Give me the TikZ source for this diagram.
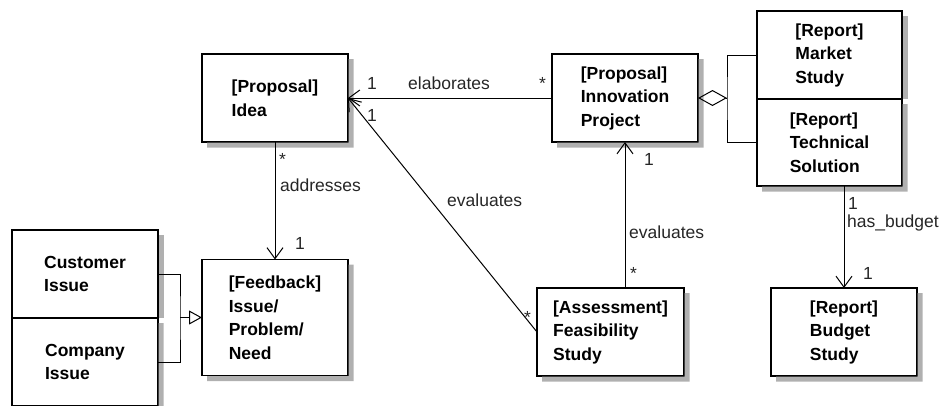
\documentclass[tikz,border=0pt]{standalone}
\usepackage{fontspec}
\setmainfont{Liberation Sans}
\usetikzlibrary{shapes,arrows.meta,positioning,calc}
\definecolor{shadowgray}{RGB}{176,176,176}
\tikzstyle{classbox} = [draw, fill=white, rectangle, line width=1.3pt,
    inner sep=0pt, outer sep=0pt, align=left,
    font=\fontsize{17.5}{23.5}\selectfont\bfseries,
    minimum width=146pt, minimum height=88pt]
\tikzstyle{boxshadow} = [fill=shadowgray, draw=none]
\tikzstyle{lbl} = [inner sep=0pt, anchor=base west, text=black!85,
    font=\fontsize{17.5}{21}\selectfont]
\tikzstyle{conn} = [line width=1pt]
\tikzstyle{assoc} = [conn, -{Straight Barb[length=11pt,width=16pt]}]

\begin{document}
\begin{tikzpicture}[x=1pt, y=-1pt]
\useasboundingbox (0,0) rectangle (948,405);
 \coordinate (I) at (275,98);
 \coordinate (P) at (625,98);
 \coordinate (M) at (829.5,55);
 \coordinate (F) at (275,317.5);
 \coordinate (C) at (85,274);
 \coordinate (A) at (610.5,332);
 \coordinate (B) at (844,332);
 \coordinate (G) at (180,317.5);
 \coordinate (D) at (727,98);

\node[classbox, name=idea] at (I) {[Proposal]\\Idea};
\node[classbox, name=innov] at (P) {[Proposal]\\Innovation\\Project};
\node[classbox, name=market, minimum width=145pt] at (M) {[Report]\\Market\\Study};
\node[classbox, name=tech, minimum width=145pt, minimum height=87pt,
      below=0pt of market] {[Report]\\Technical\\Solution};
\node[classbox, name=feedback, minimum height=116pt] at (F)
      {[Feedback]\\Issue/\\Problem/\\Need};
\node[classbox, name=cust] at (C) {Customer\\Issue};
\node[classbox, name=comp, below=0pt of cust] {Company\\Issue};
\node[classbox, name=assess, minimum width=147pt] at (A)
      {[Assessment]\\Feasibility\\Study};
\node[classbox, name=budget] at (B) {[Report]\\Budget\\Study};

% drop shadows: a strip along the right and bottom edges
\foreach \n in {idea,innov,tech,feedback,comp,assess,budget}
  \fill[boxshadow] ($(\n.north east)+(0.7,5)$) -- ($(\n.south east)+(0.7,0.7)$)
     -- ($(\n.south west)+(5,0.7)$) -- ($(\n.south west)+(5,5.7)$)
     -- ($(\n.south east)+(5.7,5.7)$) -- ($(\n.north east)+(5.7,5)$) -- cycle;
\foreach \n in {market,cust}
  \fill[boxshadow] ($(\n.north east)+(0.7,5)$) rectangle ($(\n.south east)+(5.7,0)$);

% associations
\draw[assoc] (innov.west) -- (idea.east);
\draw[assoc] (assess.west) -- (idea.east);
\draw[assoc] (idea.south) -- (feedback.north);
\draw[assoc] (innov.south |- assess.north) -- (innov.south);
\draw[assoc] (budget.north |- tech.south) -- (budget.north);

% aggregation and generalization
\draw[conn, {Diamond[open,length=29pt,width=16pt]}-] (innov.east) -- (D);
\draw[conn] (market.west) -| (D) |- (tech.west);
\draw[conn] (cust.east) -| (G) |- (comp.east);
\draw[conn, -{Triangle[open,length=13pt,width=14pt]}] (G) -- (feedback.west);

\node[lbl, name=elabone] at (367,89) {1};
\node[lbl, name=elab] at (408,89) {elaborates};
\node[lbl, name=elabmany] at (539,89) {*};
\node[lbl, name=evalone] at (367,121) {1};
\node[lbl, name=eval] at (447,206) {evaluates};
\node[lbl, name=evalmany] at (524,323) {*};
\node[lbl, name=addrmany] at (279,165) {*};
\node[lbl, name=addr] at (280,191) {addresses};
\node[lbl, name=addrone] at (295,249) {1};
\node[lbl, name=feasone] at (644,165) {1};
\node[lbl, name=feas] at (629,238) {evaluates};
\node[lbl, name=feasmany] at (630,279) {*};
\node[lbl, name=budgone] at (848,209) {1};
\node[lbl, name=budg] at (847,227) {has\_budget};
\node[lbl, name=budgtwo] at (863,279) {1};

\end{tikzpicture}
\end{document}
